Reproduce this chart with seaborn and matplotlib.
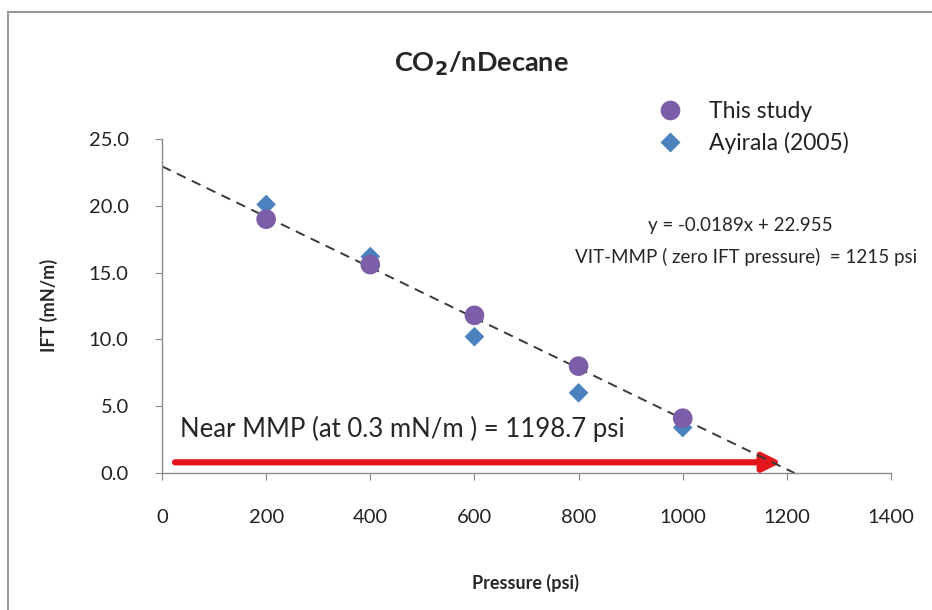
import matplotlib
matplotlib.use("Agg")
import matplotlib.pyplot as plt
from matplotlib.lines import Line2D
import numpy as np
import pandas as pd
import seaborn as sns

# Measured interfacial tension vs pressure
pressure = [200, 400, 600, 800, 1000]
ift_this_study = [19.0, 15.6, 11.8, 8.0, 4.1]
ift_ayirala = [20.1, 16.2, 10.2, 6.0, 3.4]

# Linear fit of this study's data
slope = -0.0189
intercept = 22.955
vit_mmp = 1215
near_mmp_start = 25
near_mmp_end = 1190
near_mmp_level = 0.8

x_ticks = [0, 200, 400, 600, 800, 1000, 1200, 1400]
y_ticks = [0.0, 5.0, 10.0, 15.0, 20.0, 25.0]

sns.set_theme(style="white")
plt.rcParams["font.family"] = ["Lato", "DejaVu Sans"]

fig = plt.figure(figsize=(9.32, 6.10), dpi=100)
ax = fig.add_axes([162 / 932, 1 - 473 / 610, (891 - 162) / 932, (473 - 139) / 610])

# Ayirala rows first so the circles sit on top of the diamonds
df = pd.DataFrame({
    "Pressure": pressure * 2,
    "IFT": ift_ayirala + ift_this_study,
    "Source": ["Ayirala (2005)"] * 5 + ["This study"] * 5,
})

fit_x = np.array([0, vit_mmp])
sns.lineplot(x=fit_x, y=slope * fit_x + intercept, ax=ax, color="#3a3a3a",
             linestyle=(0, (5, 3.5)), linewidth=1.4, zorder=2)

order = ["This study", "Ayirala (2005)"]
sns.scatterplot(data=df, x="Pressure", y="IFT", hue="Source", style="Source",
                size="Source",
                palette={"This study": "#7b5ea7", "Ayirala (2005)": "#4a82bd"},
                markers={"This study": "o", "Ayirala (2005)": "D"},
                sizes={"This study": 200, "Ayirala (2005)": 100},
                hue_order=order, style_order=order, size_order=order,
                edgecolor="none", ax=ax, zorder=3)

ax.annotate("", xy=(near_mmp_end, near_mmp_level), xytext=(near_mmp_start, near_mmp_level),
            arrowprops=dict(arrowstyle="-|>,head_length=0.9,head_width=0.45",
                            color="#e3161c", lw=4.5, shrinkA=0, shrinkB=0),
            zorder=1)

ax.set_xlim(0, 1400)
ax.set_ylim(0, 25)
ax.set_xticks(x_ticks)
ax.set_yticks(y_ticks)
ax.set_xticklabels([str(v) for v in x_ticks])
ax.set_yticklabels([f"{v:.1f}" for v in y_ticks])
ax.tick_params(axis="both", labelsize=14.5, length=5, width=0.8, direction="out",
               bottom=True, left=True, colors="#888888", labelcolor="#222222")
ax.tick_params(axis="x", pad=21)
ax.tick_params(axis="y", pad=19)

for side in ["top", "right"]:
    ax.spines[side].set_visible(False)
for side in ["left", "bottom"]:
    ax.spines[side].set_color("#8c8c8c")
    ax.spines[side].set_linewidth(1.0)

ax.set_xlabel("")
ax.set_ylabel("")
fig.text(525 / 932, 1 - 583 / 610, "Pressure (psi)", ha="center", va="center",
         fontsize=13, fontweight="bold")
fig.text(49 / 932, 1 - 305 / 610, "IFT (mN/m)", ha="center", va="center",
         fontsize=13, fontweight="bold", rotation=90)
fig.text(481 / 932, 1 - 64 / 610, r"CO$_\mathbf{2}$/nDecane", ha="center", va="center",
         fontsize=19.5, fontweight="bold")

ax.text(1110, 18.5, "y = -0.0189x + 22.955", ha="center", va="center", fontsize=13.5)
ax.text(1450, 16.2, "VIT-MMP ( zero IFT pressure)  = 1215 psi", ha="right",
        va="center", fontsize=13.5, clip_on=False)
ax.text(34, 3.3, "Near MMP (at 0.3 mN/m ) = 1198.7 psi", ha="left", va="center",
        fontsize=18.5)

leg = ax.legend(loc="upper left", bbox_to_anchor=(638 / 932, 1 - 92 / 610),
                bbox_transform=fig.transFigure, frameon=False, fontsize=16.5,
                handletextpad=0.7, labelspacing=0.42, borderaxespad=0)
for t in leg.get_texts():
    t.set_color("#222222")

# Chart area frame
fig.add_artist(Line2D([8 / 932, 8 / 932], [0, 1 - 12 / 610], transform=fig.transFigure,
                      color="#9a9a9a", linewidth=1.5))
fig.add_artist(Line2D([8 / 932, 1], [1 - 12 / 610, 1 - 12 / 610], transform=fig.transFigure,
                      color="#9a9a9a", linewidth=1.5))

fig.savefig("out.png", dpi=100)
